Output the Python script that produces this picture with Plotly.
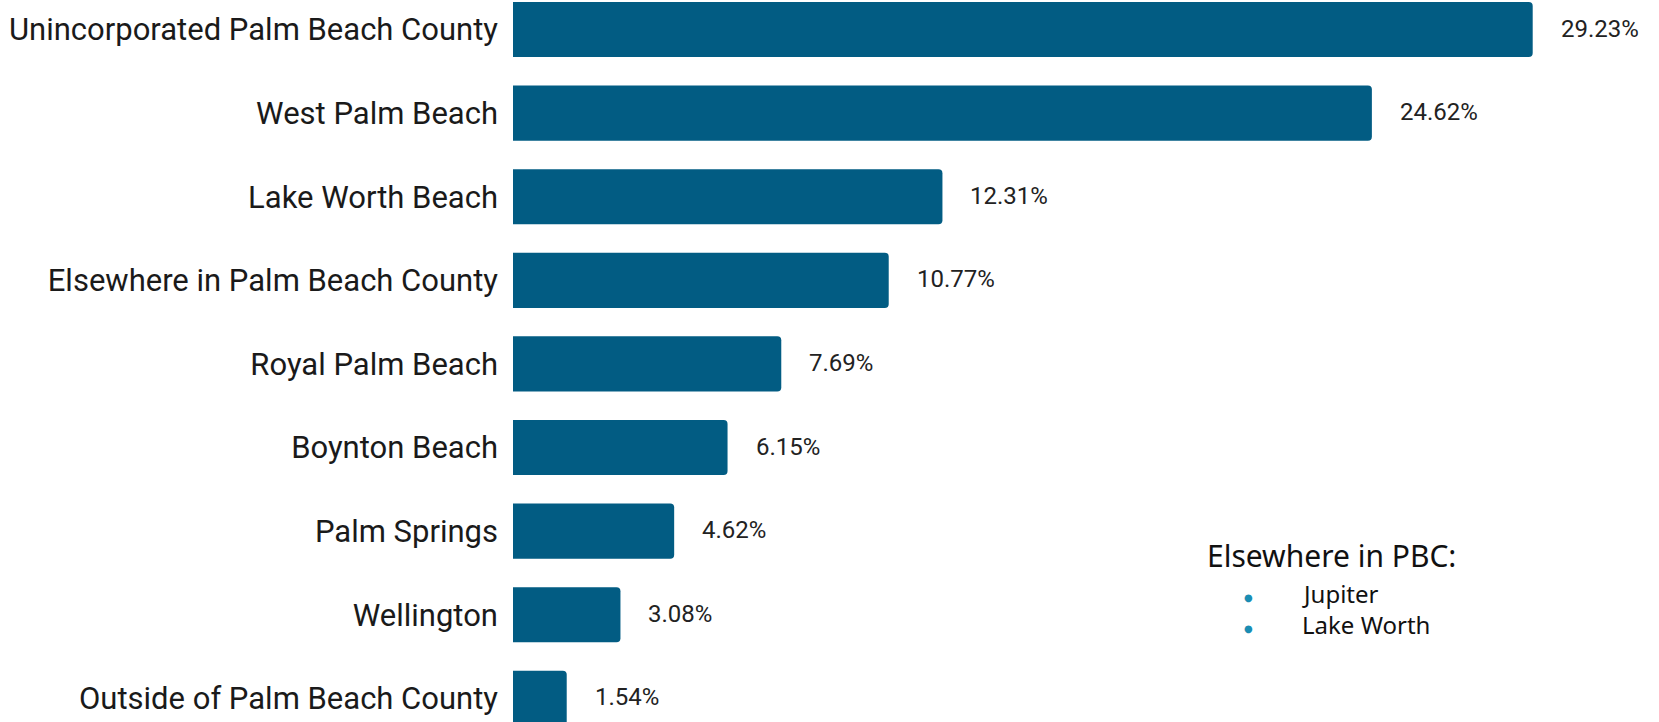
import plotly.graph_objects as go

# Share of respondents by place of residence
places = [
    "Unincorporated Palm Beach County",
    "West Palm Beach",
    "Lake Worth Beach",
    "Elsewhere in Palm Beach County",
    "Royal Palm Beach",
    "Boynton Beach",
    "Palm Springs",
    "Wellington",
    "Outside of Palm Beach County",
]
shares = [29.23, 24.62, 12.31, 10.77, 7.69, 6.15, 4.62, 3.08, 1.54]

note_title = "Elsewhere in PBC:"
note_items = ["Jupiter", "Lake Worth"]

BAR = "#025c83"
DOT = "#1a8db3"
W, H = 1659, 722

fig = go.Figure(
    go.Bar(
        x=shares,
        y=places,
        orientation="h",
        marker=dict(color=BAR, cornerradius=4, line=dict(width=0)),
        width=0.66,
        hoverinfo="skip",
    )
)

# value labels to the right of each bar
for p, v in zip(places, shares):
    fig.add_annotation(
        x=v, y=p, xref="x", yref="y",
        text=f"{v:.2f}%", showarrow=False,
        xanchor="left", yanchor="middle", xshift=26, yshift=1,
        font=dict(family="Roboto", size=24, color="#222222"),
    )

# side note listing the places grouped as "elsewhere"
fig.add_annotation(
    x=1205, y=H - 555, xref="paper", yref="paper",
    text=note_title, showarrow=False, xanchor="left", yanchor="middle",
    font=dict(family="Noto Sans", size=30, color="#111111"),
)
for i, item in enumerate(note_items):
    yc = 597 + 31 * i
    fig.add_annotation(
        x=1248, y=H - yc, xref="paper", yref="paper",
        text="●", showarrow=False, xanchor="center", yanchor="middle",
        font=dict(family="DejaVu Sans", size=10, color=DOT),
    )
    fig.add_annotation(
        x=1300, y=H - (yc - 4), xref="paper", yref="paper",
        text=item, showarrow=False, xanchor="left", yanchor="middle",
        font=dict(family="Noto Sans", size=24, color="#111111"),
    )

LEFT = 513
px_per_unit = (1532.7 - LEFT) / shares[0]
xmax = (W - LEFT) / px_per_unit

fig.update_layout(
    width=W, height=H,
    margin=dict(l=LEFT, r=0, t=0, b=0),
    paper_bgcolor="white", plot_bgcolor="white",
    showlegend=False,
    xaxis=dict(range=[0, xmax], visible=False, fixedrange=True),
    yaxis=dict(
        autorange=False,
        range=[8.283, -0.353],
        showgrid=False, zeroline=False, showline=False,
        ticks="", ticklabelstandoff=14,
        tickfont=dict(family="Roboto", size=31, color="#1a1a1a"),
        fixedrange=True,
    ),
)

# paper coordinates in pixels for the side note
for a in fig.layout.annotations:
    if a.xref == "paper":
        a.x = (a.x - LEFT) / (W - LEFT)
        a.y = a.y / H

fig.write_html("out.html", config={"displayModeBar": False})
